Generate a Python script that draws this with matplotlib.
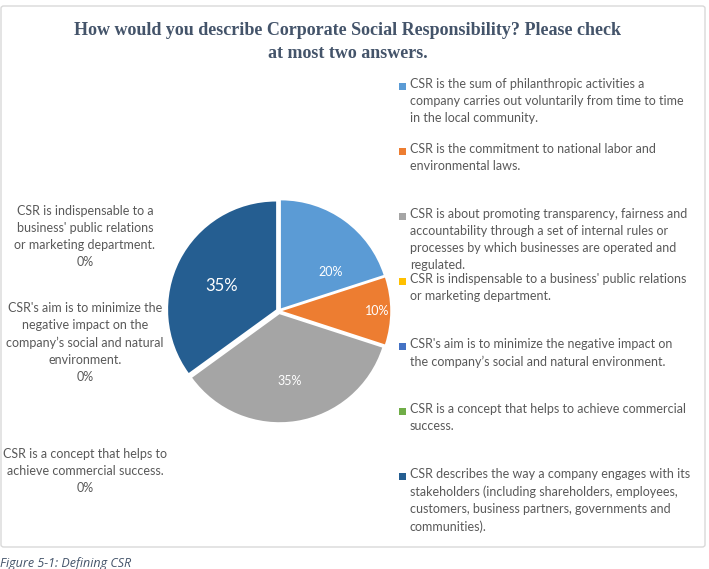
import matplotlib.pyplot as plt
import numpy as np
from matplotlib.patches import FancyBboxPatch, Rectangle

# data
legend_labels = [
    "CSR is the sum of philanthropic activities a\ncompany carries out voluntarily from time to time\nin the local community.",
    "CSR is the commitment to national labor and\nenvironmental laws.",
    "CSR is about promoting transparency, fairness and\naccountability through a set of internal rules or\nprocesses by which businesses are operated and\nregulated.",
    "CSR is indispensable to a business' public relations\nor marketing department.",
    "CSR's aim is to minimize the negative impact on\nthe company\u2019s social and natural environment.",
    "CSR is a concept that helps to achieve commercial\nsuccess.",
    "CSR describes the way a company engages with its\nstakeholders (including shareholders, employees,\ncustomers, business partners, governments and\ncommunities).",
]
outside_labels = [
    "CSR is indispensable to a\nbusiness' public relations\nor marketing department.\n0%",
    "CSR's aim is to minimize the\nnegative impact on the\ncompany\u2019s social and natural\nenvironment.\n0%",
    "CSR is a concept that helps to\nachieve commercial success.\n0%",
]
shares = [20, 10, 35, 0, 0, 0, 35]
colors = ['#5B9BD5', '#ED7D31', '#A5A5A5', '#FFC000', '#4472C4', '#70AD47', '#255E91']

title = "How would you describe Corporate Social Responsibility? Please check\nat most two answers."
caption = "Figure 5-1: Defining CSR"

W, H = 709, 569
fig = plt.figure(figsize=(W / 100, H / 100), dpi=100)
fig.patch.set_facecolor('white')

# chart frame
frame = FancyBboxPatch((1 / W, (H - 547) / H), 704 / W, 541 / H,
                       boxstyle='round,pad=0,rounding_size=0.004',
                       transform=fig.transFigure, facecolor='none',
                       edgecolor='#D9D9D9', linewidth=1.0, zorder=-1)
fig.patches.append(frame)

fig.text(348 / W, 1 - 42 / H, title, ha='center', va='center',
         fontsize=13, fontweight='bold', family='Liberation Serif',
         color='#44546A', linespacing=1.45)

# pie
cx, cy, r = 279, 311, 108
half = 124
ax = fig.add_axes([(cx - half) / W, (H - cy - half) / H, 2 * half / W, 2 * half / H])

wedges, _ = ax.pie(shares, colors=colors, startangle=90, counterclock=False,
                   explode=[0.03] * len(shares), radius=1.0,
                   wedgeprops=dict(linewidth=0))
# pie() resets the limits, so set them afterwards
ax.set_xlim(-half / r, half / r)
ax.set_ylim(-half / r, half / r)
ax.set_aspect('equal')
ax.axis('off')

# data label placement (distance from centre, angle shift in degrees)
label_dist = [0.6, 0.91, 0.66, 0, 0, 0, 0.58]
label_turn = [-17, 0, 0, 0, 0, 0, 3]
for i, (w, val) in enumerate(zip(wedges, shares)):
    if val == 0:
        continue
    ang = np.deg2rad((w.theta1 + w.theta2) / 2 + label_turn[i])
    fs = 12 if i == len(shares) - 1 else 9
    ax.text(label_dist[i] * np.cos(ang), label_dist[i] * np.sin(ang), f"{val}%",
            ha='center', va='center', color='white', fontsize=fs, family='Lato')

# legend on the right
legend_y = [86, 151, 216, 281, 346, 411, 476]
for lbl, col, y in zip(legend_labels, colors, legend_y):
    fig.patches.append(Rectangle((399 / W, 1 - (y + 4) / H), 7 / W, 7 / H,
                                 transform=fig.transFigure, facecolor=col, edgecolor='none'))
    fig.text(410 / W, 1 - (y - 8) / H, lbl, ha='left', va='top', fontsize=9,
             family='Lato', color='#595959', linespacing=1.5)

# labels for zero slices on the left
outside_y = [205, 302, 448]
for lbl, y in zip(outside_labels, outside_y):
    fig.text(85 / W, 1 - y / H, lbl, ha='center', va='top', fontsize=9,
             family='Lato', color='#595959', linespacing=1.5)

fig.text(0 / W, 1 - 557 / H, caption, ha='left', va='top', fontsize=9,
         style='italic', family='Open Sans', color='#44546A')

fig.savefig('out.png', dpi=100)
